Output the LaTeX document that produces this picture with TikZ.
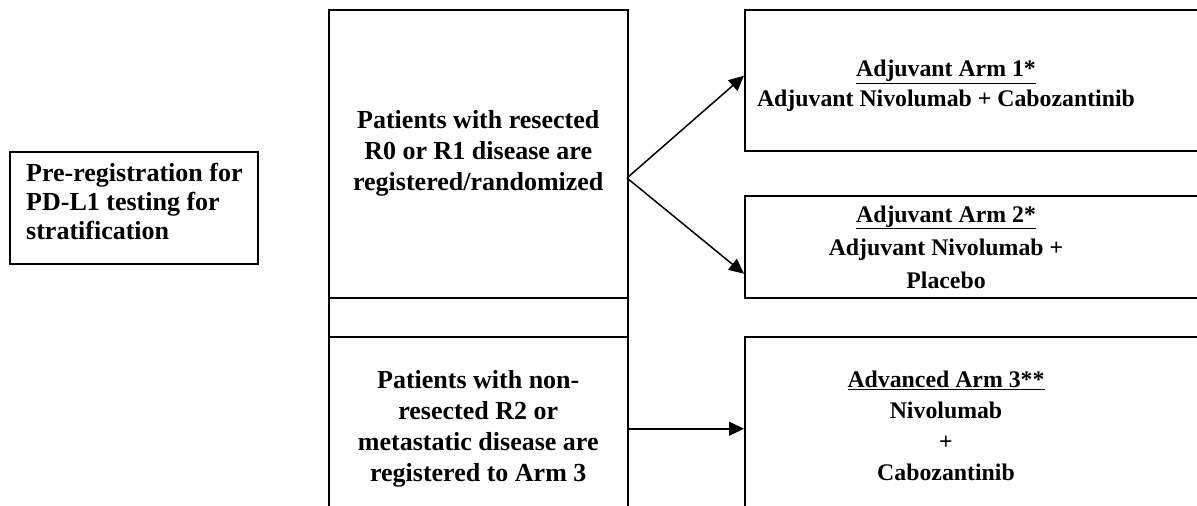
\documentclass[tikz,border=0pt]{standalone}
\usepackage{fontspec}
\setmainfont{Liberation Serif}
\usetikzlibrary{arrows.meta}
\begin{document}
\begin{tikzpicture}[
   x=1pt, y=-1pt,
   box/.style={draw, line width=1.5pt, inner sep=0pt, anchor=north west, align=center,
               font=\fontsize{26}{31}\selectfont\bfseries},
   txt/.style={align=center, inner sep=0pt, font=\fontsize{23.8}{31}\selectfont\bfseries},
   arrow/.style={-{Triangle[length=15pt,width=14pt]}, line width=1.5pt}
]
\useasboundingbox (0,0) rectangle (1197,506);

% Pre-registration
\node[box, minimum width=248pt, minimum height=112pt] (pre) at (9,151) {};
\node[txt, align=left, anchor=west, font=\fontsize{26}{29}\selectfont\bfseries] (pretxt) at (26,201)
   {Pre-registration for\\PD-L1 testing for\\stratification};

% Registration column
\node[box, minimum width=299pt, minimum height=288pt] (resect) at (328,9)
   {Patients with resected\\R0 or R1 disease are\\registered/randomized};
\node[box, minimum width=299pt, minimum height=39pt] (gap) at (328,297) {};
\node[box, minimum width=299pt, minimum height=184pt] (nonres) at (328,336)
   {Patients with non-\\resected R2 or\\metastatic disease are\\registered to Arm 3};

% Arms
\node[box, minimum width=500pt, minimum height=141pt] (arm1) at (744,9) {};
\node[txt, font=\fontsize{23.8}{29.5}\selectfont\bfseries] (arm1txt) at (946,86)
   {\underline{Adjuvant Arm 1*}\\Adjuvant Nivolumab + Cabozantinib};
\node[box, minimum width=500pt, minimum height=102pt] (arm2) at (744,195) {};
\node[txt, font=\fontsize{23.8}{33}\selectfont\bfseries] (arm2txt) at (946,247)
   {\underline{Adjuvant Arm 2*}\\Adjuvant Nivolumab +\\Placebo};
\node[box, minimum width=500pt, minimum height=184pt] (arm3) at (744,336) {};
\node[txt] (arm3txt) at (946,426)
   {\underline{Advanced Arm 3**}\\Nivolumab\\+\\Cabozantinib};

% Connectors
\coordinate (split) at (627,178);
\draw[arrow] (split) -- ([yshift=4.5pt]arm1.west);
\draw[arrow] (split) -- ([yshift=-27pt]arm2.west);
\draw[arrow] (nonres.east) -- (arm3.west);

\end{tikzpicture}
\end{document}
